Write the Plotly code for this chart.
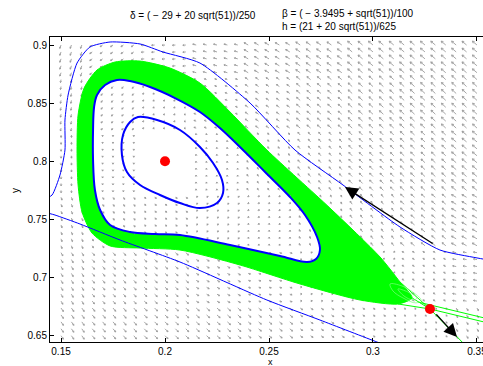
import numpy as np
import plotly.graph_objects as go

# ---------------- data ----------------
X_RANGE = [0.1447, 0.3529]
Y_RANGE = [0.6446, 0.9069]
X_TICKS = [0.15, 0.2, 0.25, 0.3, 0.35]
X_TICK_TEXT = ["0.15", "0.2", "0.25", "0.3", "0.35"]
Y_TICKS = [0.65, 0.7, 0.75, 0.8, 0.85, 0.9]
Y_TICK_TEXT = ["0.65", "0.7", "0.75", "0.8", "0.85", "0.9"]

# equilibria (centre and saddle)
equilibria_x = [0.2, 0.3274]
equilibria_y = [0.8, 0.673]

# inner closed orbit
inner_x = [0.187, 0.1962, 0.2072, 0.2168, 0.2231, 0.2274, 0.2279, 0.225, 0.2168,
           0.2072, 0.1976, 0.188, 0.1817, 0.1793, 0.1798, 0.1832, 0.187]
inner_y = [0.8381, 0.8355, 0.8269, 0.8123, 0.7985, 0.7839, 0.7727, 0.7641, 0.7598,
           0.7641, 0.771, 0.7796, 0.7908, 0.8054, 0.8226, 0.8338, 0.8381]

# middle closed orbit (inner edge of the green band)
middle_x = [0.2745, 0.2731, 0.2673, 0.2601, 0.2481, 0.2375, 0.2264, 0.2168, 0.2048,
            0.1928, 0.1832, 0.1769, 0.1712, 0.1673, 0.1659, 0.1654, 0.1654, 0.1663,
            0.1688, 0.1736, 0.1832, 0.1952, 0.2072, 0.2313, 0.2553, 0.2683, 0.2726,
            0.2745]
middle_y = [0.7237, 0.7349, 0.7538, 0.7693, 0.7908, 0.8097, 0.8286, 0.8424, 0.8544,
            0.8639, 0.869, 0.8699, 0.8656, 0.857, 0.8467, 0.8269, 0.8011, 0.7753,
            0.7581, 0.7452, 0.7392, 0.7375, 0.7366, 0.728, 0.7186, 0.7134, 0.716,
            0.7237]

# outer edge of the green band of trajectories
band_x = [0.3034, 0.2793, 0.249, 0.2313, 0.2168, 0.2024, 0.188, 0.176, 0.1673,
          0.1611, 0.1582, 0.1577, 0.1582, 0.1601, 0.1649, 0.1736, 0.188, 0.2072,
          0.2361, 0.2649, 0.2938, 0.312, 0.3188, 0.313, 0.3034]
band_y = [0.7177, 0.7598, 0.8097, 0.8424, 0.8673, 0.8802, 0.8862, 0.8854, 0.8785,
          0.863, 0.8398, 0.8097, 0.7796, 0.7564, 0.7383, 0.7272, 0.7254, 0.7237,
          0.7108, 0.6945, 0.6807, 0.6773, 0.6825, 0.6962, 0.7177]

# outer trajectory (thin blue)
outer_x = [0.3082, 0.3019, 0.2745, 0.249, 0.2072, 0.1784, 0.1591, 0.1471, 0.1423,
           0.1399, 0.1418, 0.1457, 0.1495, 0.1519, 0.1519, 0.1534, 0.1577, 0.1639,
           0.1736, 0.188, 0.199, 0.2168, 0.2409, 0.2625, 0.2856, 0.313, 0.3322,
           0.35, 0.3611]
outer_y = [0.6403, 0.6446, 0.6635, 0.6807, 0.7134, 0.7323, 0.7461, 0.7538, 0.7564,
           0.7607, 0.7667, 0.771, 0.7882, 0.8097, 0.8355, 0.857, 0.8845, 0.8983,
           0.9026, 0.9009, 0.894, 0.8845, 0.8501, 0.8097, 0.7796, 0.7435, 0.7237,
           0.7169, 0.7134]

# thin green trajectories near the saddle
fan_lines = [
    ([0.313, 0.3274], [0.6962, 0.673]),
    ([0.3188, 0.3274], [0.6825, 0.673]),
    ([0.312, 0.3274], [0.6773, 0.673]),
    ([0.3274, 0.3433, 0.3466], [0.673, 0.6446, 0.6377]),
    ([0.3216, 0.3529, 0.36], [0.679, 0.6653, 0.6625]),
    ([0.3274, 0.3529, 0.36], [0.673, 0.6618, 0.659]),
]
loop_a_x = [0.3082, 0.3139, 0.3197, 0.3231, 0.3207, 0.3144, 0.3096, 0.3082]
loop_a_y = [0.6945, 0.6928, 0.6868, 0.6807, 0.6782, 0.6825, 0.6885, 0.6945]
loop_b_x = [0.312, 0.3168, 0.3212, 0.3192, 0.3149, 0.312]
loop_b_y = [0.6902, 0.6876, 0.6825, 0.6807, 0.6842, 0.6902]

# direction arrows (tail -> head)
arrow1_tail = (0.3294, 0.7285)
arrow1_head = (0.2865, 0.7779)
arrow2_tail = (0.3298, 0.6696)
arrow2_head = (0.3404, 0.6489)

# coarse reading of the grey direction field (screen angle in degrees, relative length)
field_x = [0.15, 0.175, 0.2, 0.225, 0.25, 0.275, 0.3, 0.325, 0.35]
field_y = [0.9, 0.85, 0.8, 0.75, 0.7, 0.65]
field_angle = [
    [250, 215, 185, 165, 150, 145, 140, 140, 140],
    [260, 230, 190, 160, 145, 140, 138, 137, 137],
    [272, 268, 0, 100, 120, 130, 135, 137, 140],
    [290, 300, 330, 30, 80, 110, 125, 140, 150],
    [300, 310, 318, 330, 345, 10, 60, 150, 170],
    [305, 310, 315, 318, 320, 325, 330, 320, 300],
]
field_len = [
    [0.6, 0.5, 0.5, 0.6, 0.8, 0.9, 1.0, 1.0, 1.0],
    [0.5, 0.4, 0.3, 0.4, 0.6, 0.8, 0.9, 1.0, 1.0],
    [0.4, 0.25, 0.05, 0.25, 0.4, 0.6, 0.8, 0.9, 1.0],
    [0.5, 0.4, 0.35, 0.3, 0.3, 0.4, 0.6, 0.8, 0.9],
    [0.6, 0.6, 0.6, 0.5, 0.4, 0.3, 0.3, 0.4, 0.6],
    [0.7, 0.7, 0.7, 0.7, 0.6, 0.5, 0.4, 0.3, 0.5],
]

# ---------------- layout geometry ----------------
W, H = 483, 366
ML, MR, MT, MB = 50, 0, 37, 24
PW, PH = W - ML - MR, H - MT - MB
xs = PW / (X_RANGE[1] - X_RANGE[0])
ys = PH / (Y_RANGE[1] - Y_RANGE[0])


def inside(px, py, polx, poly):
    c = False
    n = len(polx)
    j = n - 1
    for i in range(n):
        xi, yi, xj, yj = polx[i], poly[i], polx[j], poly[j]
        if (yi > py) != (yj > py):
            if px < (xj - xi) * (py - yi) / (yj - yi) + xi:
                c = not c
        j = i
    return c


qx = 0.15 + 0.005 * np.arange(41)
qy = 0.65 + (0.25 / 42) * np.arange(43)
fx = np.array(field_x)
fy = np.array(field_y)
ax_, ay_ = [], []
bx_, by_ = [], []
for x in qx:
    for y in qy:
        in_mid = inside(x, y, middle_x, middle_y)
        if inside(x, y, band_x, band_y) and not in_mid:
            continue
        i = int(np.argmin(np.abs(fx - x)))
        j = int(np.argmin(np.abs(fy - y)))
        L = field_len[j][i] * 6.0
        if L < 0.5:
            continue
        th = np.radians(field_angle[j][i])
        tx = x + L * np.cos(th) / xs
        ty = y + L * np.sin(th) / ys
        hl = max(1.6, 0.38 * L)
        b1 = th + np.pi + np.radians(30)
        b2 = th + np.pi - np.radians(30)
        px_ = [x, tx, tx + hl * np.cos(b1) / xs, None, tx, tx + hl * np.cos(b2) / xs, None]
        py_ = [y, ty, ty + hl * np.sin(b1) / ys, None, ty, ty + hl * np.sin(b2) / ys, None]
        if in_mid:
            bx_ += px_
            by_ += py_
        else:
            ax_ += px_
            ay_ += py_

ARROW_STYLE = dict(color="#9c9c9c", width=0.9)

fig = go.Figure()
# direction field outside the band
fig.add_trace(go.Scatter(x=ax_, y=ay_, mode="lines", line=ARROW_STYLE, hoverinfo="skip"))
# green band
fig.add_trace(go.Scatter(x=band_x, y=band_y, mode="lines", fill="toself",
                         fillcolor="#00ff00", line=dict(color="#00ff00", width=1, shape="spline",
                                                        smoothing=0.7),
                         hoverinfo="skip"))
fig.add_trace(go.Scatter(x=middle_x, y=middle_y, mode="lines", fill="toself",
                         fillcolor="white", line=dict(color="white", width=0, shape="spline"),
                         hoverinfo="skip"))
# direction field inside the middle orbit
fig.add_trace(go.Scatter(x=bx_, y=by_, mode="lines", line=ARROW_STYLE, hoverinfo="skip"))
for lx, ly in fan_lines:
    fig.add_trace(go.Scatter(x=lx, y=ly, mode="lines", line=dict(color="#00ff00", width=1),
                             hoverinfo="skip"))
for lx, ly in [(loop_a_x, loop_a_y), (loop_b_x, loop_b_y)]:
    fig.add_trace(go.Scatter(x=lx, y=ly, mode="lines",
                             line=dict(color="#7dff7d", width=0.7, shape="spline"),
                             hoverinfo="skip"))
# blue orbits
fig.add_trace(go.Scatter(x=outer_x, y=outer_y, mode="lines",
                         line=dict(color="#0000ff", width=1, shape="spline", smoothing=0.6),
                         hoverinfo="skip"))
fig.add_trace(go.Scatter(x=middle_x, y=middle_y, mode="lines",
                         line=dict(color="#0000ff", width=2, shape="spline"), hoverinfo="skip"))
fig.add_trace(go.Scatter(x=inner_x, y=inner_y, mode="lines",
                         line=dict(color="#0000ff", width=2, shape="spline"), hoverinfo="skip"))
# equilibria
fig.add_trace(go.Scatter(x=equilibria_x, y=equilibria_y, mode="markers",
                         marker=dict(color="#ff0000", size=10, line=dict(width=0)),
                         hoverinfo="skip"))

font = dict(family="Liberation Sans, Arial, sans-serif", size=10, color="black")
ann = []
for tail, head in [(arrow1_tail, arrow1_head), (arrow2_tail, arrow2_head)]:
    ann.append(dict(x=head[0], y=head[1], ax=tail[0], ay=tail[1], xref="x", yref="y",
                    axref="x", ayref="y", text="", showarrow=True, arrowhead=2,
                    arrowsize=2.0, arrowwidth=1.3, arrowcolor="black"))


def px2paper(px, py):
    return (px - ML) / PW, (H - MB - py) / PH


for txt, (px, py) in [("δ = ( − 29 + 20 sqrt(51))/250", (128, 16)),
                      ("β = ( − 3.9495 + sqrt(51))/100", (280, 13)),
                      ("h = (21 + 20 sqrt(51))/625", (280, 27))]:
    u, v = px2paper(px, py)
    ann.append(dict(x=u, y=v, xref="paper", yref="paper", text=txt, showarrow=False,
                    xanchor="left", yanchor="middle", font=font))
u, v = px2paper(270, 362)
ann.append(dict(x=u, y=v, xref="paper", yref="paper", text="x", showarrow=False,
                xanchor="center", yanchor="middle", font=dict(font, size=9)))
u, v = px2paper(16, 191)
ann.append(dict(x=u, y=v, xref="paper", yref="paper", text="y", showarrow=False,
                xanchor="center", yanchor="middle", textangle=-90, font=font))

fig.update_layout(
    template="none",
    width=W, height=H, autosize=False,
    margin=dict(l=ML, r=MR, t=MT, b=MB, autoexpand=False),
    plot_bgcolor="white", paper_bgcolor="white", showlegend=False,
    annotations=ann,
    xaxis=dict(range=X_RANGE, tickvals=X_TICKS, ticktext=X_TICK_TEXT, ticks="inside",
               ticklen=4, tickcolor="black", showline=True, linecolor="black",
               linewidth=1.3, mirror="ticks", showgrid=False, zeroline=False,
               automargin=False, tickfont=font, ticklabeloverflow="allow"),
    yaxis=dict(range=Y_RANGE, tickvals=Y_TICKS, ticktext=Y_TICK_TEXT, ticks="inside",
               ticklen=4, tickcolor="black", showline=True, linecolor="black",
               linewidth=1, mirror=False, showgrid=False, zeroline=False,
               automargin=False, tickfont=font),
)
fig.write_html(
    "out.html",
    config={"responsive": False, "displayModeBar": False},
    post_script="document.body.style.margin='0';document.body.style.overflow='hidden';",
)
